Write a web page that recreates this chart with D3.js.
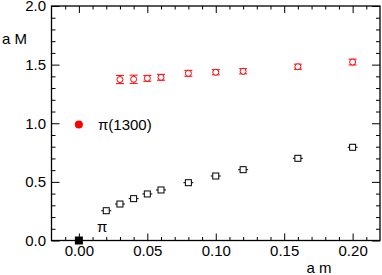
<!DOCTYPE html>
<html>
<head>
<meta charset="utf-8">
<script src="https://cdn.jsdelivr.net/npm/d3@7"></script>
<style>
  body { margin: 0; background: #fff; }
  text { font-family: "Liberation Sans", Arial, sans-serif; }
</style>
</head>
<body>
<svg id="chart" width="382" height="275"></svg>
<script>
// excited pion branch (red, open circles with error bars)
const excitedX = [0.03, 0.04, 0.05, 0.06, 0.08, 0.10, 0.12, 0.16, 0.20];
const excitedY = [1.373, 1.375, 1.383, 1.392, 1.426, 1.435, 1.443, 1.482, 1.522];
const excitedErr = [0.035, 0.035, 0.025, 0.025, 0.025, 0.022, 0.022, 0.022, 0.025];

// ground state pion (black, open squares)
const pionX = [0.02, 0.03, 0.04, 0.05, 0.06, 0.08, 0.10, 0.12, 0.16, 0.20];
const pionY = [0.254, 0.311, 0.357, 0.397, 0.431, 0.493, 0.550, 0.604, 0.701, 0.795];

// physical reference points at a m = 0
const physX = [0.0, 0.0];
const physY = [0.0, 0.99];
const physLabels = ["\u03c0", "\u03c0(1300)"];

const xMajor = [0.00, 0.05, 0.10, 0.15, 0.20];
const xMinor = [-0.01, 0.01, 0.02, 0.03, 0.04, 0.06, 0.07, 0.08, 0.09, 0.11, 0.12, 0.13, 0.14, 0.16, 0.17, 0.18, 0.19, 0.21];
const yMajor = [0.0, 0.5, 1.0, 1.5, 2.0];
const yMinor = [0.1, 0.2, 0.3, 0.4, 0.6, 0.7, 0.8, 0.9, 1.1, 1.2, 1.3, 1.4, 1.6, 1.7, 1.8, 1.9];

const mLeft = 51.5, mRight = 380, mTop = 6, mBottom = 240.5;

const svg = d3.select("#chart");

const x = d3.scaleLinear().domain([-0.02, 0.22]).range([mLeft, mRight]);
const y = d3.scaleLinear().domain([0, 2]).range([mBottom, mTop]);

function drawAxis(axis, tx, ty) {
  const g = svg.append("g")
    .attr("transform", "translate(" + tx + "," + ty + ")")
    .call(axis);
  g.select(".domain").remove();
  g.selectAll("line").attr("stroke", "#000").attr("stroke-width", 1);
  g.selectAll("text")
    .attr("fill", "#000")
    .attr("font-size", "15px")
    .attr("font-family", "'Liberation Sans', Arial, sans-serif");
  return g;
}

// bottom axis
drawAxis(d3.axisBottom(x).tickValues(xMajor).tickSize(-7).tickPadding(5)
  .tickFormat(d3.format(".2f")), 0, mBottom);
drawAxis(d3.axisBottom(x).tickValues(xMinor).tickSize(-3.5).tickFormat(""), 0, mBottom);
// top axis
drawAxis(d3.axisTop(x).tickValues(xMajor).tickSize(-7).tickFormat(""), 0, mTop);
drawAxis(d3.axisTop(x).tickValues(xMinor).tickSize(-3.5).tickFormat(""), 0, mTop);
// left axis
drawAxis(d3.axisLeft(y).tickValues(yMajor).tickSize(-8).tickPadding(5.5)
  .tickFormat(d3.format(".1f")), mLeft, 0);
drawAxis(d3.axisLeft(y).tickValues(yMinor).tickSize(-4).tickFormat(""), mLeft, 0);
// right axis
drawAxis(d3.axisRight(y).tickValues(yMajor).tickSize(-8).tickFormat(""), mRight, 0);
drawAxis(d3.axisRight(y).tickValues(yMinor).tickSize(-4).tickFormat(""), mRight, 0);

// frame
svg.append("rect")
  .attr("x", mLeft).attr("y", mTop)
  .attr("width", mRight - mLeft).attr("height", mBottom - mTop)
  .attr("fill", "none").attr("stroke", "#000").attr("stroke-width", 1.3);

// axis titles
svg.append("text").text("a M")
  .attr("x", 2).attr("y", 43.5)
  .attr("font-size", "15px").attr("fill", "#000");
svg.append("text").text("a m")
  .attr("x", 319).attr("y", 273)
  .attr("text-anchor", "middle")
  .attr("font-size", "15px").attr("fill", "#000");

// excited state: error bars + open circles
const excited = excitedX.map(function (d, i) {
  return { x: d, y: excitedY[i], e: excitedErr[i] };
});
const eg = svg.append("g").selectAll("g").data(excited).enter().append("g")
  .attr("stroke", "#f00").attr("fill", "none").attr("stroke-width", 1);
eg.append("line")
  .attr("x1", function (d) { return x(d.x); })
  .attr("x2", function (d) { return x(d.x); })
  .attr("y1", function (d) { return y(d.y - d.e); })
  .attr("y2", function (d) { return y(d.y + d.e); });
[-1, 1].forEach(function (s) {
  eg.append("line")
    .attr("x1", function (d) { return x(d.x) - 4; })
    .attr("x2", function (d) { return x(d.x) + 4; })
    .attr("y1", function (d) { return y(d.y + s * d.e); })
    .attr("y2", function (d) { return y(d.y + s * d.e); });
});
eg.append("circle")
  .attr("cx", function (d) { return x(d.x); })
  .attr("cy", function (d) { return y(d.y); })
  .attr("r", 3)
  .attr("fill", "#fff");

// ground state: open squares
const pion = pionX.map(function (d, i) {
  return { x: d, y: pionY[i] };
});
const pg = svg.append("g").selectAll("g").data(pion).enter().append("g")
  .attr("stroke", "#000").attr("stroke-width", 1);
pg.append("line")
  .attr("x1", function (d) { return x(d.x) - 5; })
  .attr("x2", function (d) { return x(d.x) + 5; })
  .attr("y1", function (d) { return y(d.y); })
  .attr("y2", function (d) { return y(d.y); });
pg.append("rect")
  .attr("x", function (d) { return x(d.x) - 3; })
  .attr("y", function (d) { return y(d.y) - 3; })
  .attr("width", 6).attr("height", 6)
  .attr("fill", "#fff");

// physical points at a m = 0
svg.append("rect")
  .attr("x", x(physX[0]) - 4).attr("y", y(physY[0]) - 4)
  .attr("width", 8).attr("height", 8)
  .attr("fill", "#000");
svg.append("circle")
  .attr("cx", x(physX[1])).attr("cy", y(physY[1]))
  .attr("r", 4).attr("fill", "#f00");

svg.append("text").text(physLabels[0])
  .attr("x", 97).attr("y", 232)
  .attr("font-size", "15px").attr("fill", "#000")
  .attr("font-family", "'DejaVu Serif', 'Liberation Serif', serif");
svg.append("text").text(physLabels[1])
  .attr("x", 98).attr("y", y(physY[1]) + 5.5)
  .attr("font-size", "15px").attr("fill", "#000");
</script>
</body>
</html>
